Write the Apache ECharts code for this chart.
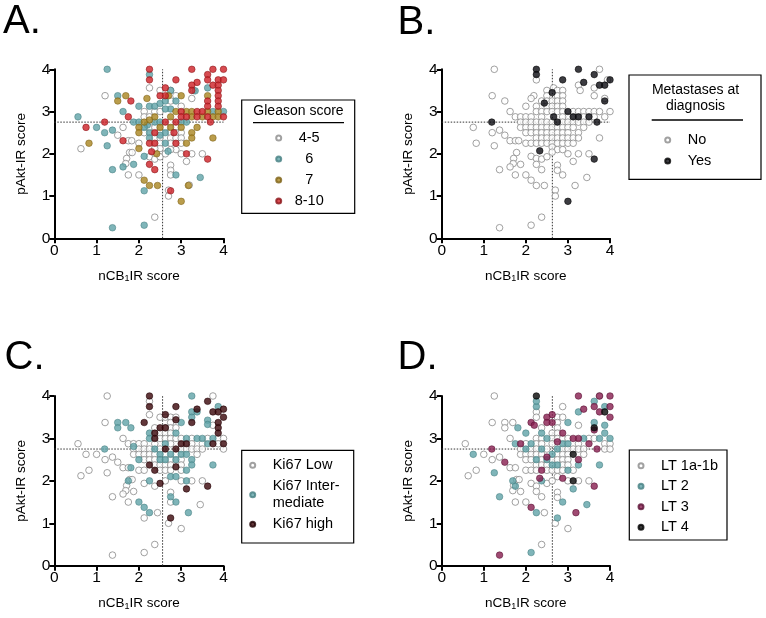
<!DOCTYPE html>
<html><head><meta charset="utf-8">
<script src="https://cdn.jsdelivr.net/npm/echarts@6/dist/echarts.min.js"></script>
<style>html,body{margin:0;padding:0;background:#fff}#c{width:766px;height:618px}</style>
</head><body><div id="c"></div>
<script>
// ---------- DATA ----------
const axisTicks = [0, 1, 2, 3, 4];
const cutY = 2.75;                       // horizontal cut-off (pAkt-IR)
const cutX = [2.56, 2.63, 2.56, 2.63];   // vertical cut-off (nCB1IR) for panels A-D

// Panel A: Gleason score
const gleason45 = [[1.2,3.375],[2.25,3.56],[2.5,3.5],[2.75,3.5],[3.29,3.5],[3.25,3.31],[2.875,3.375],[2.75,3.25],[3.0,3.125],
 [2.125,3.0],[2.375,3.0],[2.5,3.0],[2.125,2.875],[2.25,2.875],[2.75,2.75],
 [2.25,2.625],[2.375,2.625],[2.625,2.625],[2.875,2.625],[2.125,2.5],[2.5,2.5],[2.75,2.5],[2.875,2.5],[3.0,2.5],
 [2.375,2.375],[2.5,2.375],[2.75,2.375],[2.875,2.375],[3.0,2.375],[2.0,2.25],[2.5,2.25],[2.75,2.25],[3.0,2.25],
 [1.625,2.625],[1.5,2.44],[1.75,2.31],[1.83,2.31],[0.63,2.12],[1.78,2.03],[1.84,2.03],[1.71,1.89],[1.69,1.77],[1.75,1.5],[2.0,1.5],
 [2.25,1.93],[2.375,1.875],[2.5,1.93],[2.75,1.73],[2.75,1.61],[2.75,1.5],[2.7,1.14],[2.7,1.0],[2.875,2.1],[2.75,2.1],[3.0,2.0],
 [3.25,2.0],[3.5,2.0],[3.125,1.82],[3.19,1.26],[2.375,0.5],[2.625,2.0],[2.5,2.125],[2.375,2.125]];
const gleason6 = [[1.25,4],[2.25,3.875],[3.625,3.56],[3.33,3.49],[1.5,3.375],[2.0,3.125],[1.625,3.0],[2.25,3.125],[2.375,3.125],
 [2.5,3.19],[2.75,3.5],[2.875,3.25],[2.75,3.06],[2.625,3.06],[2.625,3.25],[0.56,2.875],[1.0,2.625],[1.19,2.5],[1.375,2.56],[1.25,2.19],
 [1.875,2.75],[2.0,2.75],[2.2,2.68],[2.25,2.5],[2.375,2.75],[2.5,2.75],[2.625,2.5],[2.5,2.44],[2.625,2.25],[2.25,2.375],[2.125,2.625],
 [3.75,3.0],[4.0,3.0],[3.0,2.75],[3.125,2.75],[1.875,1.75],[1.625,1.69],[1.375,1.625],[2.125,1.94],[2.69,2.06],[2.875,1.5],[3.45,1.44],
 [2.125,1.125],[2.125,0.31],[1.375,0.25]];
const gleason7 = [[1.69,3.375],[1.5,3.25],[2.19,3.31],[3.0,3.375],[3.625,3.375],[2.7,3.375],[3.125,3.0],[3.25,3.0],[3.625,3.0],[3.875,3.0],
 [3.25,2.875],[3.5,2.875],[3.75,2.875],[3.875,2.875],[2.875,3.0],[2.0,2.625],[2.0,2.5],[2.25,2.8],[2.375,2.875],[2.5,2.625],[2.75,2.875],
 [2.75,2.625],[3.0,2.625],[3.375,2.625],[3.25,2.5],[3.25,2.375],[3.125,2.25],[3.75,2.375],[0.82,2.25],[2.0,2.125],[2.42,2.0],
 [2.125,1.375],[2.44,1.25],[3.17,1.25],[3.0,0.875],[2.125,2.75],[2.25,1.25]];
const gleason810 = [[2.25,4],[2.25,3.75],[3.25,4],[3.75,4],[4,4],[3.625,3.875],[2.875,3.75],[3.625,3.75],[3.875,3.75],[4,3.75],[3.375,3.69],
 [3.25,3.625],[3.75,3.625],[3.875,3.625],[2.625,3.56],[2.625,3.375],[2.5,3.375],[3.25,3.5],[3.875,3.5],[3.875,3.375],[3.875,3.25],
 [3.625,3.25],[3.625,3.125],[3.875,3.125],[1.81,3.25],[1.75,2.875],[1.19,2.75],[0.75,2.625],[3.0,3.0],[3.375,3.0],[3.5,3.0],
 [3.0,2.875],[3.125,2.875],[3.375,2.875],[3.625,2.875],[4.0,2.875],[2.875,2.75],[2.625,2.75],[3.69,2.75],[1.625,2.31],[2.25,2.25],
 [2.375,2.25],[2.875,2.25],[2.83,2.5],[2.375,2.5],[2.3,2.05],[2.25,1.75],[2.375,1.625],[3.125,2.0],[3.625,1.875],[2.75,1.125]];

// Panel B: Metastases at diagnosis
const metNo = [[1.25,4],[3.75,4],[2.25,3.75],[3.94,3.75],[3.25,3.625],[3.29,3.5],[3.625,3.56],[3.625,3.375],[3.875,3.31],
 [2.66,3.56],[2.5,3.5],[2.75,3.5],[2.875,3.5],[1.2,3.375],[1.5,3.25],[2.19,3.375],[2.125,3.31],[2.0,3.125],[2.5,3.375],[2.75,3.375],
 [2.875,3.375],[2.375,3.25],[2.5,3.25],[2.625,3.25],[2.75,3.25],[2.875,3.25],[2.25,3.125],[2.5,3.125],[2.625,3.125],[2.75,3.125],
 [2.875,3.125],[1.625,3.0],[1.75,2.875],[1.875,2.875],[2.0,2.875],[2.125,2.875],[2.25,3.0],[2.375,3.0],[2.5,3.0],[2.625,3.0],
 [2.75,3.0],[2.875,3.0],[3.125,3.0],[3.25,3.0],[3.375,3.0],[3.5,3.0],[3.625,3.0],[3.75,3.0],[4.0,3.0],[2.375,2.875],[3.0,2.875],
 [2.875,2.875],[3.375,2.875],[3.625,2.875],[3.875,2.875],[1.875,2.75],[2.0,2.75],[2.125,2.75],[2.25,2.75],[2.375,2.75],[2.5,2.75],
 [2.625,2.75],[2.875,2.75],[3.0,2.75],[3.125,2.75],[3.25,2.75],[3.375,2.75],[3.5,2.75],[0.75,2.625],[1.2,2.5],[1.375,2.56],[1.5,2.44],
 [1.625,2.31],[1.75,2.31],[1.83,2.31],[1.875,2.625],[2.0,2.625],[2.125,2.625],[2.25,2.625],[2.375,2.625],[2.5,2.625],[2.625,2.625],
 [2.75,2.625],[2.875,2.625],[3.0,2.625],[3.125,2.625],[3.375,2.625],[2.0,2.5],[2.125,2.5],[2.25,2.5],[2.375,2.5],[2.5,2.5],[2.625,2.5],
 [2.75,2.5],[2.875,2.5],[3.0,2.5],[3.25,2.5],[2.25,2.375],[2.375,2.375],[2.5,2.375],[2.625,2.375],[2.75,2.375],[2.875,2.375],
 [3.0,2.375],[3.125,2.375],[3.25,2.375],[3.75,2.375],[0.82,2.25],[1.25,2.19],[2.0,2.25],[2.125,2.25],[2.25,2.25],[2.375,2.25],
 [2.5,2.25],[2.625,2.25],[2.75,2.25],[2.875,2.25],[3.0,2.25],[3.125,2.25],[1.78,2.03],[1.71,1.89],[1.7,1.77],[1.875,1.75],[1.625,1.69],
 [1.375,1.625],[1.75,1.5],[2.0,1.5],[2.125,1.94],[2.25,1.89],[2.375,1.875],[2.5,1.93],[2.625,2.16],[2.75,2.1],[2.875,2.1],[3.0,2.0],
 [3.25,2.0],[3.5,2.0],[3.125,1.82],[2.75,1.73],[2.75,1.61],[2.875,1.5],[2.625,2.04],[2.375,1.625],[2.25,1.75],[2.125,1.375],[2.25,1.25],
 [2.44,1.25],[2.7,1.14],[2.7,1.0],[3.17,1.25],[3.45,1.44],[2.375,0.5],[2.125,0.31],[1.375,0.25]];
const metYes = [[2.25,4],[3.25,4],[2.25,3.875],[3.625,3.875],[2.875,3.75],[3.375,3.69],[4,3.75],[3.75,3.625],[3.875,3.625],[3.875,3.25],
 [2.625,3.45],[2.44,3.2],[3.0,3.0],[2.66,2.875],[3.125,2.875],[3.25,2.875],[3.5,2.875],[1.19,2.75],[2.75,2.75],[3.69,2.75],
 [2.33,2.07],[3.625,1.875],[3.0,0.875]];

// Panel C: Ki67
const ki67Low = [[1.25,4],[3.75,4],[2.25,3.875],[2.25,3.56],[2.5,3.5],[2.625,3.5],[2.75,3.5],[2.875,3.5],[3.75,3.31],[1.2,3.375],
 [2.75,3.375],[2.375,3.25],[2.75,3.25],[2.875,3.25],[2.5,3.125],[2.625,3.125],[2.75,3.125],[1.625,3.0],[1.75,2.875],[1.875,2.875],
 [2.0,2.875],[2.125,2.875],[2.5,3.0],[2.625,3.0],[2.75,3.0],[2.875,3.0],[3.0,3.0],[3.25,3.0],[3.625,3.0],[3.875,3.0],[4.0,3.0],
 [2.375,2.875],[2.75,2.875],[3.25,2.875],[3.5,2.875],[3.875,2.875],[0.56,2.875],[0.75,2.625],[1.0,2.625],[1.2,2.5],[1.375,2.56],
 [1.5,2.44],[1.625,2.31],[1.75,2.31],[0.63,2.12],[0.82,2.25],[1.25,2.19],[1.875,2.75],[2.0,2.75],[2.125,2.75],[2.25,2.75],[2.5,2.75],
 [3.0,2.75],[3.125,2.75],[3.25,2.75],[3.375,2.75],[3.5,2.75],[4.0,2.75],[1.875,2.625],[2.0,2.625],[2.125,2.625],[2.25,2.625],
 [2.375,2.625],[2.625,2.625],[2.875,2.625],[3.375,2.625],[2.125,2.5],[2.25,2.5],[2.375,2.5],[2.75,2.5],[3.0,2.5],[2.375,2.375],
 [2.5,2.375],[2.625,2.375],[2.75,2.375],[3.0,2.375],[2.0,2.25],[2.125,2.25],[2.5,2.25],[2.625,2.25],[2.75,2.25],[3.0,2.25],
 [1.78,2.03],[1.84,2.03],[1.71,1.89],[1.69,1.77],[1.875,1.75],[1.625,1.69],[1.375,1.625],[1.75,1.5],[2.125,1.94],[2.375,1.875],
 [2.625,2.0],[3.0,2.0],[3.25,2.0],[3.5,2.0],[2.75,1.73],[2.75,1.5],[3.45,1.44],[2.44,1.25],[2.7,1.0],[3.0,0.875],[2.375,0.5],
 [2.125,0.31],[1.375,0.25],[2.125,1.125],[2.625,3.25]];
const ki67Int = [[3.25,4],[3.25,3.625],[3.375,3.625],[3.25,3.5],[3.625,3.43],[3.625,3.33],[3.875,3.75],[1.5,3.375],[1.69,3.375],
 [1.5,3.25],[1.81,3.25],[2.25,3.125],[2.25,3.0],[3.0,3.375],[2.875,3.125],[3.125,3.0],[3.375,3.0],[3.5,3.0],[3.625,2.875],[3.75,3.0],
 [1.19,2.75],[1.875,2.81],[2.0,2.5],[2.5,2.625],[2.5,2.5],[2.625,2.5],[2.625,2.875],[2.75,2.625],[2.875,2.5],[3.0,2.625],[3.25,2.5],
 [3.25,2.375],[3.125,2.25],[3.75,2.375],[1.81,2.31],[1.75,2.0],[2.25,2.0],[2.75,2.1],[2.875,2.1],[3.125,2.0],[2.75,1.625],[2.875,1.5],
 [2.0,1.5],[2.125,1.375],[2.25,1.25],[3.17,1.25],[3.125,2.625],[2.375,2.75]];
const ki67High = [[2.25,4],[2.25,3.75],[2.875,3.75],[3.375,3.69],[3.625,3.875],[3.75,3.625],[3.875,3.625],[4.0,3.69],[4.0,3.5],
 [3.875,3.375],[3.875,3.25],[3.875,3.125],[3.25,3.375],[2.125,3.375],[2.625,3.56],[2.5,3.25],[2.625,3.25],[2.375,3.125],[2.875,3.44],
 [2.375,3.0],[3.0,2.875],[3.125,2.875],[3.75,2.875],[4.0,2.875],[2.875,2.75],[2.625,2.75],[2.25,2.375],[2.375,2.25],[2.875,2.33],
 [3.125,1.81],[3.625,1.875],[2.75,1.125],[2.5,1.94]];

// Panel D: LT stage
const lt1 = [[1.25,4],[3.75,4],[2.25,3.625],[2.25,3.5],[2.875,3.75],[2.75,3.5],[2.875,3.5],[2.75,3.375],[3.25,3.31],[1.2,3.375],
 [1.5,3.375],[1.5,3.25],[1.69,3.375],[2.375,3.25],[2.75,3.25],[2.625,3.125],[2.75,3.125],[1.625,3.0],[2.25,3.0],[2.375,3.0],
 [2.625,3.0],[2.75,3.0],[2.875,3.0],[3.0,3.0],[3.5,3.0],[3.625,3.0],[2.0,2.875],[2.25,2.875],[2.375,2.875],[2.625,2.875],[3.25,2.875],
 [3.875,2.875],[4.0,2.875],[0.56,2.875],[1.0,2.625],[1.2,2.5],[1.375,2.56],[1.625,2.31],[1.75,2.31],[0.63,2.12],[0.82,2.25],
 [1.875,2.75],[2.125,2.75],[2.25,2.75],[2.5,2.75],[2.875,2.75],[3.0,2.75],[3.125,2.75],[3.25,2.75],[3.375,2.75],[3.875,2.75],
 [4.0,2.75],[1.875,2.625],[2.0,2.625],[2.125,2.625],[2.25,2.625],[2.375,2.625],[2.75,2.625],[2.875,2.625],[3.0,2.625],[3.375,2.625],
 [2.0,2.5],[2.125,2.5],[2.375,2.5],[2.625,2.5],[2.75,2.5],[2.875,2.5],[3.0,2.5],[2.25,2.375],[2.375,2.375],[2.5,2.375],[2.875,2.375],
 [3.0,2.375],[2.0,2.25],[2.125,2.25],[2.25,2.25],[2.5,2.25],[2.625,2.25],[2.75,2.25],[2.875,2.25],[3.125,2.25],[1.78,2.03],[1.84,2.03],
 [1.71,1.89],[1.69,1.77],[1.875,1.75],[1.75,1.5],[2.0,1.5],[2.125,1.94],[2.25,1.875],[2.5,1.94],[2.625,2.0],[2.75,2.1],[3.0,2.0],
 [3.25,2.0],[3.5,2.0],[2.75,1.73],[2.75,1.61],[2.44,1.25],[2.7,1.0],[3.0,0.875],[2.375,0.5],[2.25,1.75],[2.375,1.625]];
const lt2 = [[2.25,3.75],[2.25,3.875],[3.625,3.875],[3.25,3.625],[3.875,3.75],[3.625,3.375],[3.875,3.31],[3.875,3.125],[3.0,3.375],
 [1.81,3.25],[2.0,3.125],[2.375,3.125],[2.5,3.0],[2.875,2.875],[3.0,2.875],[3.375,3.0],[3.75,3.0],[4,3.0],[1.75,2.875],[0.75,2.625],
 [1.25,2.19],[1.375,1.625],[1.75,1.875],[1.69,2.0],[2.25,2.5],[2.5,2.5],[2.75,2.75],[2.75,2.375],[3.0,2.25],[3.125,1.81],[2.875,1.5],
 [3.45,1.44],[2.25,1.25],[2.75,1.125],[2.125,0.31],[3.75,2.375],[3.25,2.375],[2.0,2.75],[2.375,2.75],[2.625,2.625],[2.125,2.875],
 [2.375,2.0],[2.625,2.375]];
const lt3 = [[3.25,4],[3.75,4],[4,4],[3.625,3.75],[4,3.75],[3.75,3.625],[3.375,3.69],[2.625,3.56],[2.5,3.5],[2.625,3.375],[2.5,3.375],
 [2.125,3.375],[2.2,3.31],[4.0,3.5],[3.625,3.2],[2.875,3.125],[3.25,3.0],[3.5,2.875],[3.69,2.75],[1.875,2.875],[1.19,2.75],[1.5,2.44],
 [2.5,2.56],[2.375,2.25],[3.25,2.5],[2.875,2.06],[2.33,2.06],[3.625,1.875],[2.125,1.375],[3.19,1.25],[1.375,0.25],[2.75,2.92],[3.125,3.0]];
const lt4 = [[2.25,4],[3.875,3.625],[3.625,3.25],[3.125,2.625],[3.125,2.0]];

// ---------- CHART ----------
const FONT = '"Liberation Sans", Arial, Helvetica, sans-serif';
const openStyle = {color:'#ffffff', borderColor:'#8a8a8a', borderWidth:1};
const fill = (c, b) => ({color:c, borderColor:b, borderWidth:0.7});

const grids = [
  {left:54.3, top:69.3, width:169.2, height:169},
  {left:441.7, top:69.3, width:168.3, height:169},
  {left:54.3, top:396, width:169.2, height:169.7},
  {left:441.7, top:396, width:168.3, height:169.7}
];
const panelSeries = [
  [['4-5', gleason45, openStyle], ['6', gleason6, fill('#5fa3a7','#467f82')], ['7', gleason7, fill('#a9841f','#7d6116')], ['8-10', gleason810, fill('#cd1f26','#8a1418')]],
  [['No', metNo, openStyle], ['Yes', metYes, fill('#0b0b12','#000')]],
  [['Ki67 Low', ki67Low, openStyle], ['Ki67 Inter-\nmediate', ki67Int, fill('#5fa3a7','#467f82')], ['Ki67 high', ki67High, fill('#3a0509','#200003')]],
  [['LT 1a-1b', lt1, openStyle], ['LT 2', lt2, fill('#5fa3a7','#467f82')], ['LT 3', lt3, fill('#871d4f','#5a1234')], ['LT 4', lt4, fill('#080808','#000')]]
];

const xAxes = [], yAxes = [], series = [];
grids.forEach((g, i) => {
  const common = {
    type:'value', gridIndex:i, min:axisTicks[0], max:axisTicks[axisTicks.length-1], interval:1,
    splitLine:{show:false},
    axisLine:{show:true, onZero:false, lineStyle:{color:'#000', width:2}},
    axisTick:{show:true, length:5, lineStyle:{color:'#000', width:2}},
    axisLabel:{color:'#000', fontSize:15.5, fontFamily:FONT, margin:4},
    nameLocation:'middle'
  };
  xAxes.push(Object.assign({}, common, {
    name:'nCB{s|1}IR score', nameGap:30,
    nameTextStyle:{color:'#000', fontSize:13.5, fontFamily:FONT,
      rich:{s:{fontSize:9, fontFamily:FONT, color:'#000', verticalAlign:'bottom', padding:[6,0,0,0]}}}
  }));
  yAxes.push(Object.assign({}, common, {
    name:'pAkt-IR score', nameGap:26,
    nameTextStyle:{color:'#000', fontSize:13.5, fontFamily:FONT}
  }));
  // reference (cut-off) lines
  series.push({type:'line', xAxisIndex:i, yAxisIndex:i, data:[[axisTicks[0], cutY],[axisTicks[4], cutY]],
    symbol:'none', silent:true, z:1, lineStyle:{color:'#333', width:1, type:[1.5,1.5]}, animation:false});
  series.push({type:'line', xAxisIndex:i, yAxisIndex:i, data:[[cutX[i], axisTicks[0]],[cutX[i], axisTicks[4]]],
    symbol:'none', silent:true, z:1, lineStyle:{color:'#333', width:1, type:[1.5,1.5]}, animation:false});
  panelSeries[i].forEach(([name, data, style]) => {
    series.push({type:'scatter', name, xAxisIndex:i, yAxisIndex:i, data, symbol:'circle', symbolSize:6.6,
      itemStyle:style, z:2, animation:false});
  });
});

function mkLegend(i, left, top, gap, padLeft, centerWidth) {
  const rich = centerWidth
    ? {t:{width:centerWidth, align:'center', fontSize:14.5, lineHeight:17, fontFamily:FONT, color:'#000'}}
    : {t:{padding:[0,0,0,padLeft], fontSize:14.5, lineHeight:17, fontFamily:FONT, color:'#000'}};
  return {
    orient:'vertical', left, top, itemGap:gap, itemWidth:5, itemHeight:5, padding:0, selectedMode:false,
    icon:'circle', data:panelSeries[i].map(s => s[0]),
    formatter: n => n.split('\n').map(l => '{t|' + l + '}').join('\n'),
    textStyle:{fontSize:14.5, fontFamily:FONT, color:'#000', lineHeight:17, rich}
  };
}
const legends = [
  mkLegend(0, 275.2, 129.5, 4, 0, 46),
  mkLegend(1, 664.2, 131.5, 4, 12.5, 0),
  mkLegend(2, 249.2, 456.8, 4, 12.5, 0),
  mkLegend(3, 637.5, 457.2, 3.5, 12.5, 0)
];

const txt = (t, x, y, extra) => ({type:'text', x, y, silent:true,
  style:Object.assign({text:t, fill:'#000', font:'14px ' + FONT, align:'center', verticalAlign:'middle'}, extra || {})});
const box = (x, y, w, h) => ({type:'rect', silent:true, shape:{x, y, width:w, height:h},
  style:{fill:'none', stroke:'#000', lineWidth:1.2}});
const hline = (x1, x2, y) => ({type:'line', silent:true, shape:{x1, y1:y, x2, y2:y}, style:{stroke:'#000', lineWidth:1.3}});

const graphic = [
  txt('A.', 3, 22, {font:'40px ' + FONT, align:'left'}),
  txt('B.', 397.5, 22.5, {font:'40px ' + FONT, align:'left'}),
  txt('C.', 4.5, 358, {font:'40px ' + FONT, align:'left'}),
  txt('D.', 397.5, 357.5, {font:'40px ' + FONT, align:'left'}),
  box(241.7, 100, 113, 113.3),
  txt('Gleason score', 298.5, 111.5),
  hline(253, 344, 122.7),
  box(629, 75, 132, 104.3),
  txt('Metastases at\ndiagnosis', 695.5, 98, {lineHeight:16}),
  hline(651.7, 743, 120),
  box(241.7, 450.3, 112, 92.7),
  box(629.3, 450, 97.7, 90)
];

const chart = echarts.init(document.getElementById('c'), null, {renderer:'canvas'});
chart.setOption({
  animation:false, backgroundColor:'#fff',
  grid:grids, xAxis:xAxes, yAxis:yAxes, series, legend:legends, graphic
});
</script></body></html>
